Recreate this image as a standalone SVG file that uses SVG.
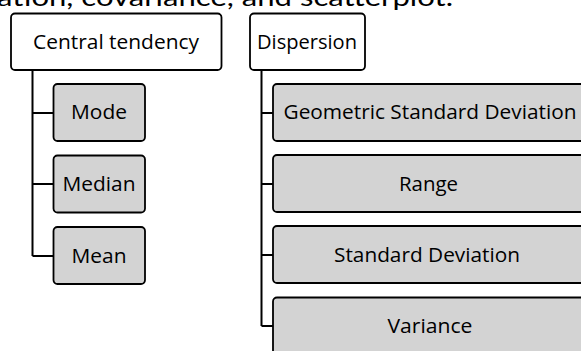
<svg xmlns="http://www.w3.org/2000/svg" width="581" height="351" viewBox="0 0 581 351">
  <style>
    .head { fill: #ffffff; stroke: #000000; stroke-width: 1.8; }
    .leaf { fill: #d3d3d3; stroke: #000000; stroke-width: 1.8; }
    .lbl { font-family: "Open Sans", "Liberation Sans", sans-serif; font-size: 19.5px; fill: #000000; text-anchor: middle; }
    .wire { fill: none; stroke: #000000; stroke-width: 2; }
    .caption { font-family: "Lato", "Liberation Sans", sans-serif; font-size: 25px; fill: #000000; }
  </style>

  <rect width="581" height="351" fill="#ffffff"/>

  <!-- running paragraph text above the chart -->
  <text class="caption" x="-3" y="6" textLength="456" lengthAdjust="spacingAndGlyphs">ation, covariance, and scatterplot.</text>

  <!-- connectors -->
  <g id="connectors">
    <path class="wire" d="M32.5 70 V256 M32.5 113 H54 M32.5 184 H54 M32.5 256 H54"/>
    <path class="wire" d="M261.5 70 V326 M261.5 113 H273 M261.5 184 H273 M261.5 255 H273 M261.5 326 H273"/>
  </g>

  <!-- central tendency branch -->
  <g id="central-tendency">
    <rect class="head" x="11" y="13.5" width="210.5" height="56.5" rx="4"/>
    <text class="lbl" x="116" y="48.5" textLength="166" lengthAdjust="spacingAndGlyphs">Central tendency</text>
  </g>
  <g id="mode">
    <rect class="leaf" x="53.5" y="84" width="91.5" height="57" rx="4"/>
    <text class="lbl" x="99" y="118.5" textLength="56" lengthAdjust="spacingAndGlyphs">Mode</text>
  </g>
  <g id="median">
    <rect class="leaf" x="53.5" y="155.5" width="91.5" height="57" rx="4"/>
    <text class="lbl" x="99" y="190.5" textLength="73" lengthAdjust="spacingAndGlyphs">Median</text>
  </g>
  <g id="mean">
    <rect class="leaf" x="53.5" y="227" width="91.5" height="57" rx="4"/>
    <text class="lbl" x="99" y="262.5" textLength="55" lengthAdjust="spacingAndGlyphs">Mean</text>
  </g>

  <!-- dispersion branch -->
  <g id="dispersion">
    <rect class="head" x="250" y="13.5" width="115" height="56.5" rx="4"/>
    <text class="lbl" x="307" y="48.5" textLength="100" lengthAdjust="spacingAndGlyphs">Dispersion</text>
  </g>
  <g id="geometric-sd">
    <rect class="leaf" x="273" y="84" width="315" height="57" rx="4"/>
    <text class="lbl" x="430" y="119.3" textLength="293" lengthAdjust="spacingAndGlyphs">Geometric Standard Deviation</text>
  </g>
  <g id="range">
    <rect class="leaf" x="273" y="155" width="315" height="57" rx="4"/>
    <text class="lbl" x="428.5" y="190.5" textLength="59" lengthAdjust="spacingAndGlyphs">Range</text>
  </g>
  <g id="standard-deviation">
    <rect class="leaf" x="273" y="226" width="315" height="57" rx="4"/>
    <text class="lbl" x="427" y="261.5" textLength="186" lengthAdjust="spacingAndGlyphs">Standard Deviation</text>
  </g>
  <g id="variance">
    <rect class="leaf" x="273" y="297.5" width="315" height="57" rx="4"/>
    <text class="lbl" x="430" y="332.5" textLength="85" lengthAdjust="spacingAndGlyphs">Variance</text>
  </g>
</svg>
